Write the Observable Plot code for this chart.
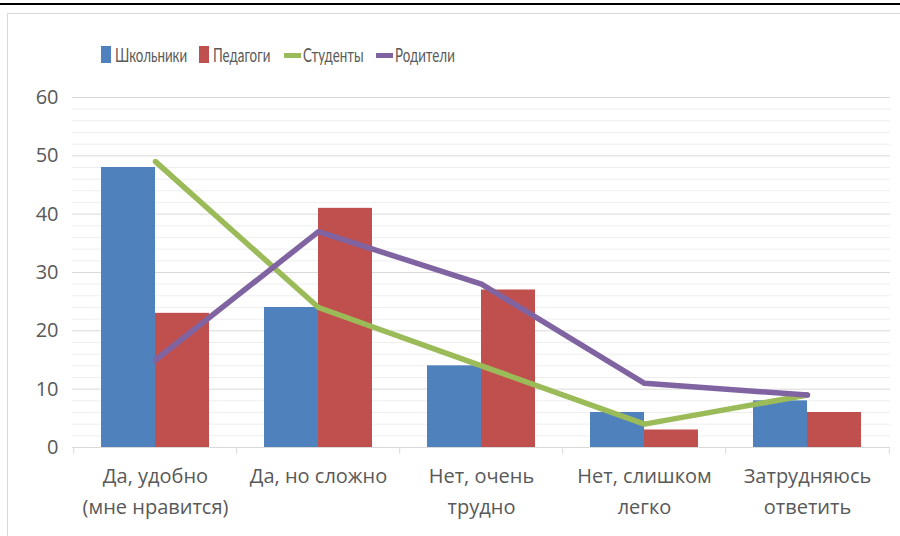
<!DOCTYPE html>
<html><head><meta charset="utf-8">
<script src="https://cdn.jsdelivr.net/npm/d3@7"></script>
<script src="https://cdn.jsdelivr.net/npm/@observablehq/plot@0.6"></script>
<style>
body{margin:0;background:#fff;}
#wrap{position:relative;width:900px;height:536px;overflow:hidden;font-family:"Open Sans","Liberation Sans",sans-serif;background:#fff;}
#topline{position:absolute;left:0;top:3px;width:900px;height:2px;background:#000;}
#frame{position:absolute;left:7px;top:13px;width:1000px;height:1000px;border:1px solid #d9d9d9;}
#legend{position:absolute;left:0;top:0;width:900px;height:80px;font-family:Lato,"Liberation Sans",sans-serif;font-size:18.5px;color:#595959;white-space:nowrap;}
.sw{position:absolute;}
.lt{position:absolute;top:44px;line-height:22px;display:inline-block;transform-origin:left center;transform:scaleX(0.72);}
#chart{position:absolute;left:0;top:0;}
</style></head>
<body>
<div id="wrap">
  <div id="topline"></div>
  <div id="frame"></div>
  <div id="chart"></div>
  <div id="legend"></div>
</div>
<script>
const categories = ["Да, удобно\n(мне нравится)", "Да, но сложно", "Нет, очень\nтрудно", "Нет, слишком\nлегко", "Затрудняюсь\nответить"];
const schoolchildren = [48, 24, 14, 6, 8];
const teachers = [23, 41, 27, 3, 6];
const students = [49, 24, 14, 4, 9];
const parents = [15, 37, 28, 11, 9];
const seriesNames = ["Школьники", "Педагоги", "Студенты", "Родители"];
const seriesColors = ["#4F81BD", "#C0504D", "#9BBB59", "#8064A2"];
const seriesKinds = ["bar", "bar", "line", "line"];
const yMajorTicks = [0, 10, 20, 30, 40, 50, 60];
const yMinorTicks = [2, 4, 6, 8, 12, 14, 16, 18, 22, 24, 26, 28, 32, 34, 36, 38, 42, 44, 46, 48, 52, 54, 56, 58];

const W = 900, H = 536;
const mL = 72, mR = 10, mT = 97, mB = 89;
const padInner = 0.34;
const step = (W - mL - mR) / categories.length;
const bw = step * (1 - padInner);
const font = "'Open Sans', 'Liberation Sans', sans-serif";

const rows = categories.map((c, i) => ({
  cat: c, school: schoolchildren[i], teach: teachers[i], stud: students[i], par: parents[i],
  l1: c.split("\n")[0], l2: c.split("\n")[1] || ""
}));

const chart = Plot.plot({
  width: W, height: H,
  marginLeft: mL, marginRight: mR, marginTop: mT, marginBottom: mB,
  style: {fontSize: "20px", fontFamily: font, color: "#595959", background: "transparent"},
  x: {domain: categories, paddingInner: padInner, paddingOuter: padInner / 2, axis: null},
  y: {domain: [0, 60], ticks: yMajorTicks, tickSize: 0, tickPadding: 14, label: null},
  marks: [
    Plot.ruleY(yMinorTicks, {stroke: "#eeeeee", strokeWidth: 1}),
    Plot.ruleY(yMajorTicks, {stroke: "#d9d9d9", strokeWidth: 1}),
    Plot.ruleX(categories, {x: d => d, dx: -step / 2, y1: 0, y2: 0, insetBottom: -7, stroke: "#d9d9d9"}),
    Plot.ruleX(categories.slice(-1), {x: d => d, dx: step / 2, y1: 0, y2: 0, insetBottom: -7, stroke: "#d9d9d9"}),
    Plot.barY(rows, {x: "cat", y: "school", fill: seriesColors[0], insetRight: bw / 2}),
    Plot.barY(rows, {x: "cat", y: "teach", fill: seriesColors[1], insetLeft: bw / 2}),
    Plot.line(rows, {x: "cat", y: "stud", stroke: seriesColors[2], strokeWidth: 5.5, strokeLinejoin: "round", strokeLinecap: "round"}),
    Plot.line(rows, {x: "cat", y: "par", stroke: seriesColors[3], strokeWidth: 5.5, strokeLinejoin: "round", strokeLinecap: "round"}),
    Plot.text(rows, {x: "cat", y: () => 0, text: "l1", dy: 29, fill: "#595959", fontSize: 20}),
    Plot.text(rows, {x: "cat", y: () => 0, text: "l2", dy: 60, fill: "#595959", fontSize: 20})
  ]
});
document.getElementById("chart").appendChild(chart);

// legend item positions (px)
const swatchX = [101, 199, 284, 376];
const textX = [115, 213, 303, 395];
const legend = document.getElementById("legend");
seriesNames.forEach((name, i) => {
  const sw = document.createElement("div");
  sw.className = "sw";
  sw.style.background = seriesColors[i];
  sw.style.left = swatchX[i] + "px";
  if (seriesKinds[i] === "bar") { sw.style.width = "10px"; sw.style.height = "17px"; sw.style.top = "46px"; }
  else { sw.style.width = "17px"; sw.style.height = "5px"; sw.style.top = "53px"; }
  const t = document.createElement("span");
  t.className = "lt";
  t.style.left = textX[i] + "px";
  t.textContent = name;
  legend.appendChild(sw); legend.appendChild(t);
});
</script>
</body></html>
